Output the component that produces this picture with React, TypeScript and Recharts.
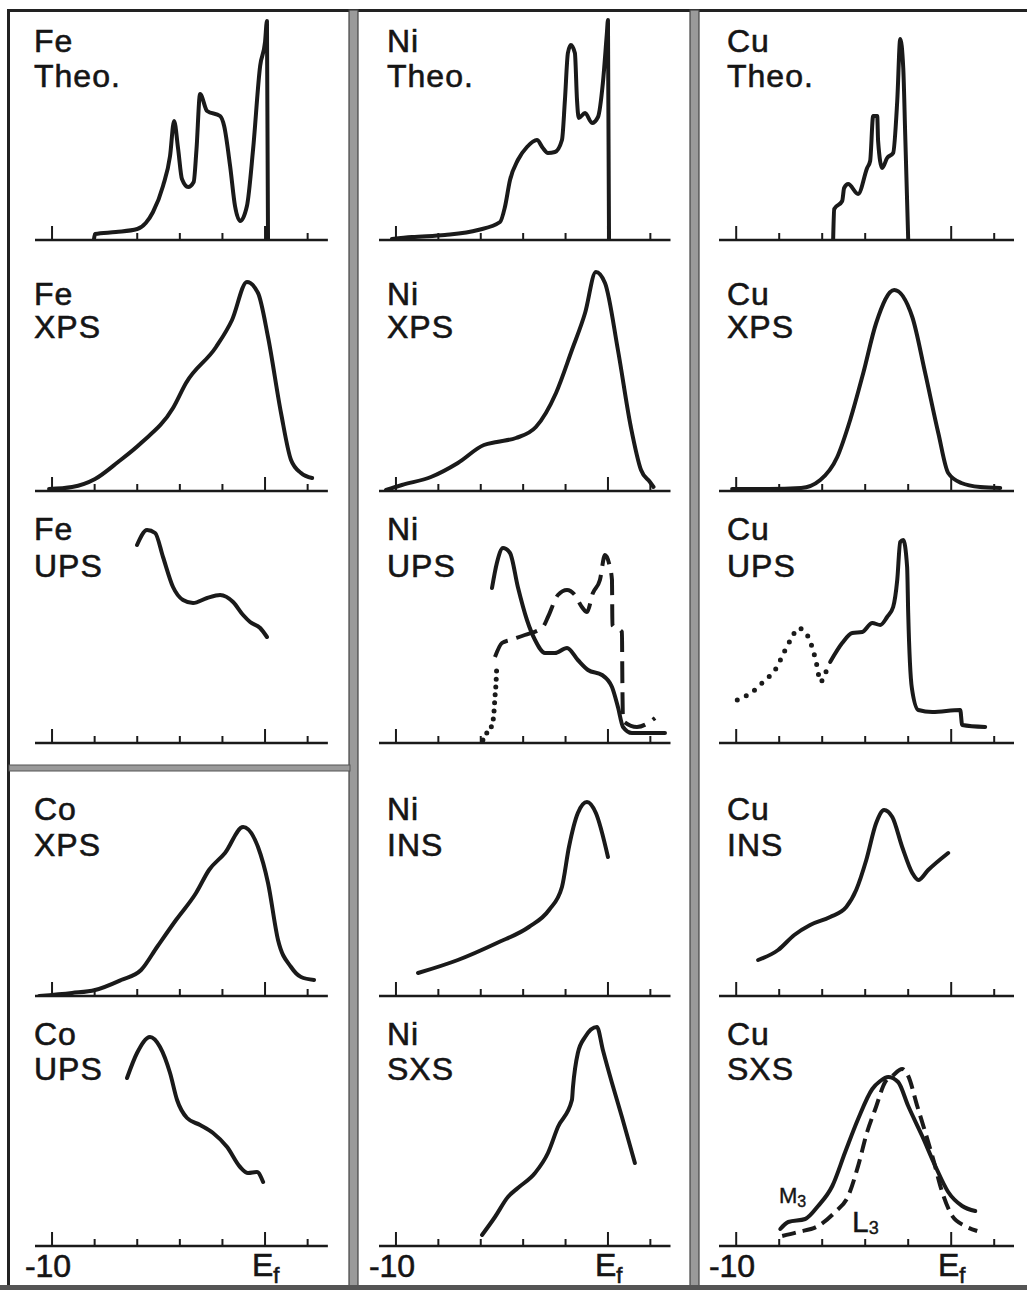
import React from 'react';
import { LineChart, Line, XAxis, YAxis, ReferenceLine } from 'recharts';

type Pt = [number, number];

// ---- axis ticks (eV, Fermi level = 0) ----
const tickValues = [-10, -8, -6, -4, -2, 0, 2];
const majorTicks = [-10, 0];

// ---- series: [energy (eV), intensity (arb.)] ----
const feTheo: Pt[] = [[-8.03, 1], [-7.98, 6], [-7.0, 8], [-6.0, 11], [-5.6, 17], [-5.26, 28], [-4.79, 54], [-4.46, 84], [-4.27, 119], [-4.08, 91], [-3.9, 61], [-3.61, 53], [-3.35, 58], [-3.22, 90], [-3.05, 146], [-2.72, 129], [-2.11, 124], [-1.92, 114], [-1.64, 74], [-1.41, 34], [-1.17, 19], [-0.85, 34], [-0.56, 91], [-0.23, 174], [0, 198], [0.09, 219], [0.14, 0]];
const feXps: Pt[] = [[-10.14, 2], [-9.06, 4], [-7.98, 12], [-6.9, 29], [-5.82, 48], [-4.32, 83], [-3.71, 108], [-2.3, 144], [-1.55, 171], [-0.85, 209], [-0.33, 198], [0.14, 154], [0.75, 78], [1.22, 31], [1.69, 18], [2.21, 13]];
const feUps: Pt[] = [[-6.01, 198], [-5.54, 213], [-5.16, 210], [-4.79, 186], [-4.32, 156], [-3.85, 143], [-3.38, 140], [-2.72, 145], [-2.11, 148], [-1.5, 141], [-1.03, 128], [-0.7, 121], [-0.23, 115], [0.09, 106]];
const coXps: Pt[] = [[-10.6, 0], [-9.06, 3], [-7.98, 6], [-6.76, 16], [-5.82, 26], [-5.07, 49], [-4.18, 76], [-3.24, 103], [-2.63, 126], [-1.88, 143], [-1.03, 169], [-0.33, 149], [0.14, 113], [0.61, 56], [1.22, 29], [1.69, 19], [2.3, 16]];
const coUps: Pt[] = [[-6.48, 168], [-6.01, 193], [-5.4, 209], [-4.93, 199], [-4.46, 173], [-4.13, 146], [-3.66, 128], [-3.05, 121], [-2.44, 113], [-1.78, 99], [-1.17, 79], [-0.8, 73], [-0.38, 74], [-0.09, 64]];

const niTheo: Pt[] = [[-10.19, 1], [-9.25, 3], [-7.69, 5], [-6.13, 10], [-5.09, 18], [-4.86, 33], [-4.62, 60], [-4.25, 80], [-3.82, 93], [-3.35, 100], [-3.07, 92], [-2.83, 87], [-2.5, 88], [-2.17, 100], [-2.03, 140], [-1.89, 187], [-1.75, 195], [-1.56, 187], [-1.46, 140], [-1.38, 122], [-1.08, 127], [-0.75, 117], [-0.47, 123], [-0.24, 157], [-0.05, 207], [0.0, 220], [0.05, 0]];
const niXps: Pt[] = [[-10.47, 1], [-9.72, 6], [-8.35, 14], [-7.08, 28], [-5.85, 46], [-5.24, 49], [-4.34, 53], [-3.4, 64], [-2.45, 98], [-1.7, 141], [-1.08, 178], [-0.57, 219], [-0.14, 208], [0.47, 141], [1.08, 64], [1.56, 21], [1.98, 9], [2.15, 4]];
const niUpsSolid: Pt[] = [[-5.47, 155], [-5.24, 180], [-4.95, 195], [-4.62, 190], [-4.25, 156], [-3.82, 123], [-3.44, 103], [-2.97, 90], [-2.5, 90], [-1.93, 95], [-1.42, 83], [-0.94, 73], [-0.28, 68], [0.19, 56], [0.47, 36], [0.71, 16], [1.13, 10], [2.69, 10]];
const niUpsDashed: Pt[] = [[-5.33, 86], [-5.0, 100], [-4.62, 103], [-3.92, 108], [-3.07, 116], [-2.83, 126], [-2.36, 148], [-1.93, 153], [-1.56, 148], [-1.23, 136], [-0.99, 131], [-0.71, 150], [-0.38, 163], [-0.14, 188], [0.09, 176], [0.19, 163], [0.21, 118], [0.66, 111], [0.68, 60], [0.71, 22], [1.37, 16], [2.22, 25]];
const niUpsDotted: Pt[] = [[-5.9, 3], [-5.75, 9], [-5.47, 18], [-5.38, 30], [-5.33, 46], [-5.28, 60], [-5.24, 80]];
const niIns: Pt[] = [[-8.96, 23], [-7.08, 36], [-5.24, 53], [-3.73, 69], [-2.78, 86], [-2.17, 109], [-1.84, 149], [-1.42, 183], [-0.99, 194], [-0.57, 183], [0.0, 139]];
const niSxs: Pt[] = [[-5.94, 11], [-5.33, 29], [-4.72, 49], [-4.25, 58], [-3.44, 73], [-2.83, 93], [-2.36, 119], [-1.7, 146], [-1.65, 159], [-1.42, 193], [-1.08, 209], [-0.52, 219], [-0.24, 196], [0.19, 163], [0.66, 129], [1.27, 83]];

const cuTheo: Pt[] = [[-5.49, 1], [-5.44, 31], [-5.07, 39], [-4.98, 52], [-4.79, 56], [-4.33, 46], [-3.91, 72], [-3.77, 79], [-3.63, 124], [-3.44, 124], [-3.4, 99], [-3.21, 72], [-2.98, 82], [-2.7, 87], [-2.51, 139], [-2.37, 201], [-2.23, 172], [-2.14, 106], [-2.0, 1]];
const cuXps: Pt[] = [[-10.19, 2], [-8.5, 2], [-6.98, 3], [-6.09, 11], [-5.3, 34], [-4.7, 71], [-4.09, 118], [-3.49, 168], [-2.65, 201], [-1.81, 174], [-1.21, 118], [-0.6, 58], [-0.14, 18], [0.47, 8], [1.35, 4], [2.28, 3]];
const cuUpsDotted: Pt[] = [[-9.95, 43], [-9.26, 51], [-8.65, 63], [-8.19, 73], [-7.72, 93], [-7.4, 106], [-7.12, 115], [-6.79, 111], [-6.47, 96], [-6.23, 76], [-6.09, 61], [-5.81, 72]];
const cuUpsSolid: Pt[] = [[-5.63, 81], [-5.07, 100], [-4.6, 110], [-4.14, 111], [-3.67, 120], [-3.3, 118], [-2.98, 126], [-2.7, 136], [-2.51, 163], [-2.37, 201], [-2.23, 203], [-2.05, 176], [-2.0, 130], [-1.83, 55], [-1.53, 33], [-0.88, 31], [0.42, 33], [0.51, 18], [1.58, 16]];
const cuIns: Pt[] = [[-8.98, 36], [-8.05, 46], [-7.3, 61], [-6.56, 71], [-5.63, 79], [-4.88, 89], [-4.42, 106], [-3.95, 136], [-3.49, 173], [-3.12, 186], [-2.74, 179], [-2.28, 149], [-1.81, 123], [-1.53, 116], [-1.07, 126], [-0.14, 143]];
const cuSxsM3: Pt[] = [[-7.95, 17], [-7.58, 24], [-6.79, 27], [-6.19, 40], [-5.53, 60], [-4.93, 94], [-4.33, 127], [-3.67, 157], [-3.3, 165], [-2.93, 169], [-2.47, 164], [-2.0, 140], [-1.35, 110], [-0.74, 80], [-0.14, 54], [0.51, 40], [1.12, 35]];
const cuSxsL3: Pt[] = [[-7.86, 10], [-7.12, 14], [-6.19, 20], [-5.4, 34], [-4.79, 50], [-4.33, 80], [-3.91, 114], [-3.53, 137], [-3.07, 164], [-2.74, 170], [-2.28, 177], [-2.0, 170], [-1.58, 140], [-1.21, 114], [-0.84, 87], [-0.42, 54], [0.05, 30], [0.65, 20], [1.21, 15]];

// ---- layout / style ----
const INK = '#1a1a1a';
const FONT = '"Liberation Sans", Arial, sans-serif';
const X_MIN = -10.8;
const X_MAX = 2.95;
const Y_MAX = 230;

const columns = [
  { x0: 52, ppe: 21.3, labelX: 34 },
  { x0: 396, ppe: 21.2, labelX: 387 },
  { x0: 736, ppe: 21.5, labelX: 727 },
];
const rows = [
  { base: 240, l1: 52, l2: 87 },
  { base: 491, l1: 305, l2: 338 },
  { base: 743, l1: 540, l2: 577 },
  { base: 996, l1: 820, l2: 856 },
  { base: 1246, l1: 1045, l2: 1080 },
];

type Style = 'solid' | 'dashed' | 'dashedShort' | 'dotted' | 'dottedWide';
interface Panel { col: number; row: number; element: string; method: string; series: { data: Pt[]; style: Style }[] }

const panels: Panel[] = [
  { col: 0, row: 0, element: 'Fe', method: 'Theo.', series: [{ data: feTheo, style: 'solid' }] },
  { col: 0, row: 1, element: 'Fe', method: 'XPS', series: [{ data: feXps, style: 'solid' }] },
  { col: 0, row: 2, element: 'Fe', method: 'UPS', series: [{ data: feUps, style: 'solid' }] },
  { col: 0, row: 3, element: 'Co', method: 'XPS', series: [{ data: coXps, style: 'solid' }] },
  { col: 0, row: 4, element: 'Co', method: 'UPS', series: [{ data: coUps, style: 'solid' }] },
  { col: 1, row: 0, element: 'Ni', method: 'Theo.', series: [{ data: niTheo, style: 'solid' }] },
  { col: 1, row: 1, element: 'Ni', method: 'XPS', series: [{ data: niXps, style: 'solid' }] },
  { col: 1, row: 2, element: 'Ni', method: 'UPS', series: [{ data: niUpsDotted, style: 'dotted' }, { data: niUpsDashed, style: 'dashed' }, { data: niUpsSolid, style: 'solid' }] },
  { col: 1, row: 3, element: 'Ni', method: 'INS', series: [{ data: niIns, style: 'solid' }] },
  { col: 1, row: 4, element: 'Ni', method: 'SXS', series: [{ data: niSxs, style: 'solid' }] },
  { col: 2, row: 0, element: 'Cu', method: 'Theo.', series: [{ data: cuTheo, style: 'solid' }] },
  { col: 2, row: 1, element: 'Cu', method: 'XPS', series: [{ data: cuXps, style: 'solid' }] },
  { col: 2, row: 2, element: 'Cu', method: 'UPS', series: [{ data: cuUpsDotted, style: 'dottedWide' }, { data: cuUpsSolid, style: 'solid' }] },
  { col: 2, row: 3, element: 'Cu', method: 'INS', series: [{ data: cuIns, style: 'solid' }] },
  { col: 2, row: 4, element: 'Cu', method: 'SXS', series: [{ data: cuSxsM3, style: 'solid' }, { data: cuSxsL3, style: 'dashedShort' }] },
];

const styleProps: Record<Style, any> = {
  solid: { strokeWidth: 4, strokeLinejoin: 'round', strokeLinecap: 'round' },
  dashed: { strokeWidth: 4, strokeDasharray: '22 9' },
  dashedShort: { strokeWidth: 4, strokeDasharray: '14 7' },
  dotted: { strokeWidth: 5, strokeDasharray: '0 8', strokeLinecap: 'round' },
  dottedWide: { strokeWidth: 5, strokeDasharray: '0 10', strokeLinecap: 'round' },
};

function PanelChart({ p }: { p: Panel }) {
  const c = columns[p.col];
  const r = rows[p.row];
  const left = c.x0 + (X_MIN + 10) * c.ppe;
  const width = (X_MAX - X_MIN) * c.ppe;
  return (
    <div style={{ position: 'absolute', left, top: r.base - Y_MAX - 10 }}>
      <LineChart width={width} height={Y_MAX + 20} margin={{ top: 10, right: 0, bottom: 10, left: 0 }}>
        <XAxis type="number" dataKey="x" domain={[X_MIN, X_MAX]} hide allowDataOverflow />
        <YAxis type="number" domain={[0, Y_MAX]} hide allowDataOverflow />
        <ReferenceLine y={0} stroke={INK} strokeWidth={2.5} />
        {tickValues.map((t) => (
          <ReferenceLine
            key={t}
            segment={[{ x: t, y: 0 }, { x: t, y: majorTicks.includes(t) ? 14 : 7 }]}
            stroke={INK}
            strokeWidth={2}
          />
        ))}
        {p.series.map((s, i) => (
          <Line
            key={i}
            data={s.data.map(([x, y]) => ({ x, y }))}
            dataKey="y"
            type="monotone"
            stroke={INK}
            fill="none"
            dot={false}
            activeDot={false}
            isAnimationActive={false}
            {...styleProps[s.style]}
          />
        ))}
      </LineChart>
    </div>
  );
}

export default function App() {
  const bottom = rows[4].base;
  return (
    <div style={{ position: 'absolute', left: 0, top: 0, width: 1027, height: 1290, background: '#fff', overflow: 'hidden' }}>
      {panels.map((p, i) => (
        <PanelChart key={i} p={p} />
      ))}
      <svg width={1027} height={1290} style={{ position: 'absolute', left: 0, top: 0, pointerEvents: 'none' }}>
        {/* frame */}
        <rect x={7} y={9} width={1020} height={3} fill="#222" />
        <rect x={7} y={9} width={3} height={1280} fill="#222" />
        <rect x={349} y={10} width={9} height={1280} fill="#9a9a9a" stroke="#444" strokeWidth={1.2} />
        <rect x={690} y={10} width={9} height={1280} fill="#9a9a9a" stroke="#444" strokeWidth={1.2} />
        <rect x={9} y={765} width={341} height={6} fill="#9a9a9a" stroke="#555" strokeWidth={1} />
        <rect x={0} y={1285} width={1027} height={5} fill="#555" />
        {/* panel labels */}
        {panels.map((p, i) => {
          const c = columns[p.col];
          const r = rows[p.row];
          return (
            <g key={i} fontFamily={FONT} fontSize={32} fill="#151515" stroke="#151515" strokeWidth={0.6} letterSpacing={1}>
              <text x={c.labelX} y={r.l1}>{p.element}</text>
              <text x={c.labelX} y={r.l2}>{p.method}</text>
            </g>
          );
        })}
        {/* bottom axis labels */}
        {columns.map((c, i) => (
          <g key={i} fontFamily={FONT} fill="#151515" stroke="#151515" strokeWidth={0.6}>
            <text x={c.x0 - 4} y={bottom + 31} fontSize={32} textAnchor="middle">-10</text>
            <text x={c.x0 + 10 * c.ppe - 13} y={bottom + 30} fontSize={32}>
              E<tspan fontSize={22} dy={7}>f</tspan>
            </text>
          </g>
        ))}
        {/* Cu SXS curve labels */}
        <g fontFamily={FONT} fill="#151515" stroke="#151515" strokeWidth={0.4}>
          <text x={779} y={1203} fontSize={22}>M<tspan fontSize={16} dy={4}>3</tspan></text>
          <text x={852} y={1232} fontSize={30}>L<tspan fontSize={18} dy={2}>3</tspan></text>
        </g>
      </svg>
    </div>
  );
}
